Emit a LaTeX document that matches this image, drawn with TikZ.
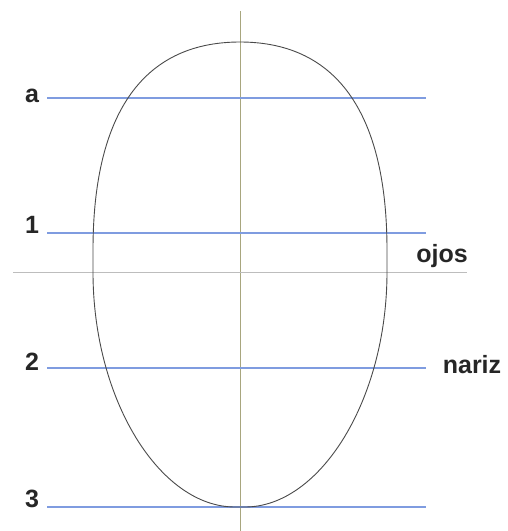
\documentclass[tikz,border=0pt]{standalone}
\usepackage{fontspec}
\setsansfont{Liberation Sans}
\usetikzlibrary{positioning}
\definecolor{cguide}{HTML}{7F9CE0}
\definecolor{caxis}{HTML}{A8A67E}
\definecolor{cmid}{HTML}{BDBDBD}
\definecolor{cface}{HTML}{4A4A4A}
\tikzset{
  every picture/.style={font=\sffamily\bfseries, line width=1pt},
  guide/.style={draw=cguide, line width=1.1pt},
  lbl/.style={font=\fontsize{25}{25}\selectfont\sffamily\bfseries, anchor=base, inner sep=0pt, text=black!85},
}
\begin{document}
\begin{tikzpicture}[x=1pt, y=-1pt]
  \useasboundingbox (0,0) rectangle (508,531);
  % centre line
  \coordinate (top) at (240,11);
  \coordinate (bot) at (240,531);
  \draw[caxis, line width=0.9pt] (top) -- (bot);
  % guide lines with their labels
  \foreach \n/\t/\y/\b in {a/a/98/102, one/1/233/233, two/2/368/370, three/3/507/507} {
    \node[lbl] (lab-\n) at (32,\b) {\t};
    \coordinate (\n-l) at (47,\y);
    \coordinate (\n-r) at (426,\y);
    \draw[guide] (\n-l) -- (\n-r);
  }
  % middle of the head
  \coordinate (mid-l) at (13,272);
  \coordinate (mid-r) at (467,272);
  \draw[cmid, line width=0.8pt] (mid-l) -- (mid-r);
  \node[lbl] (ojos) at (442,262) {ojos};
  \node[lbl] (nariz) at (472,373) {nariz};
  % head outline
  \draw[cface, line width=0.9pt] (240,42) .. controls (340,42) and (387,118) .. (387,250)
    -- (387,272) .. controls (387,400) and (320,507) .. (245,507) -- (235,507)
    .. controls (160,507) and (93,400) .. (93,272) -- (93,250)
    .. controls (93,118) and (140,42) .. (240,42) -- cycle;
\end{tikzpicture}
\end{document}
